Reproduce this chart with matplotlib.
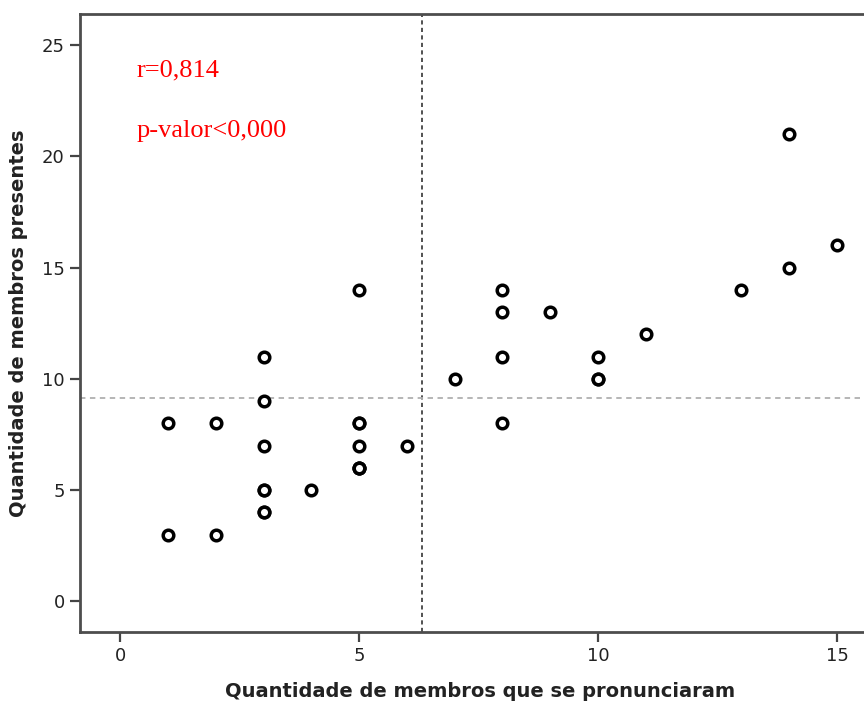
import matplotlib
matplotlib.use('Agg')
import matplotlib.pyplot as plt

# pontos (membros que se pronunciaram, membros presentes)
pronunciaram = [1, 1, 2, 2, 3, 3, 3, 3, 3, 3, 3, 4, 5, 5, 5, 5, 5, 5, 5, 6,
                7, 8, 8, 8, 8, 9, 10, 10, 10, 11, 13, 14, 14, 15]
presentes = [8, 3, 8, 3, 11, 9, 7, 5, 5, 4, 4, 5, 14, 8, 8, 7, 6, 6, 6, 7,
             10, 14, 13, 11, 8, 13, 11, 10, 10, 12, 14, 21, 15, 16]
media_x = 6.32
media_y = 9.14
x_ticks = [0, 5, 10, 15]
y_ticks = [0, 5, 10, 15, 20, 25]
anotacoes = ['r=0,814', 'p-valor<0,000']

fig = plt.figure(figsize=(8.64, 7.02), dpi=100)
ax = fig.add_axes([80/864, 1 - 632/702, 800/864, (632 - 14)/702])

ax.scatter(pronunciaram, presentes, s=58, facecolors='white',
           edgecolors='black', linewidths=2.5, zorder=3)

ax.axvline(media_x, color='#333333', linestyle=(0, (2.5, 2)), linewidth=1.2, zorder=1)
ax.axhline(media_y, color='#b0b0b0', linestyle=(0, (3, 2.5)), linewidth=1.3, zorder=1)

ax.set_xlim(-0.84, 15.9)
ax.set_ylim(-1.38, 26.4)
ax.set_xticks(x_ticks)
ax.set_yticks(y_ticks)

for s in ['left', 'bottom', 'top']:
    ax.spines[s].set_color('#4d4d4d')
    ax.spines[s].set_linewidth(2)
ax.spines['right'].set_visible(False)
ax.tick_params(length=7, width=1.6, color='#444444', labelsize=13,
               labelcolor='#222222', pad=4)

ax.set_xlabel('Quantidade de membros que se pronunciaram', fontsize=14,
              fontweight='bold', color='#222222', labelpad=12)
ax.set_ylabel('Quantidade de membros presentes', fontsize=14,
              fontweight='bold', color='#222222', labelpad=10)

# textos em coordenadas de pixel (a partir do topo)
ax.text(137 / 864, 1 - 70 / 702, anotacoes[0], transform=fig.transFigure,
        color='red', fontsize=19, family='Liberation Serif', va='center')
ax.text(137 / 864, 1 - 131 / 702, anotacoes[1], transform=fig.transFigure,
        color='red', fontsize=19, family='Liberation Serif', va='center')

fig.savefig('out.png', dpi=100)
